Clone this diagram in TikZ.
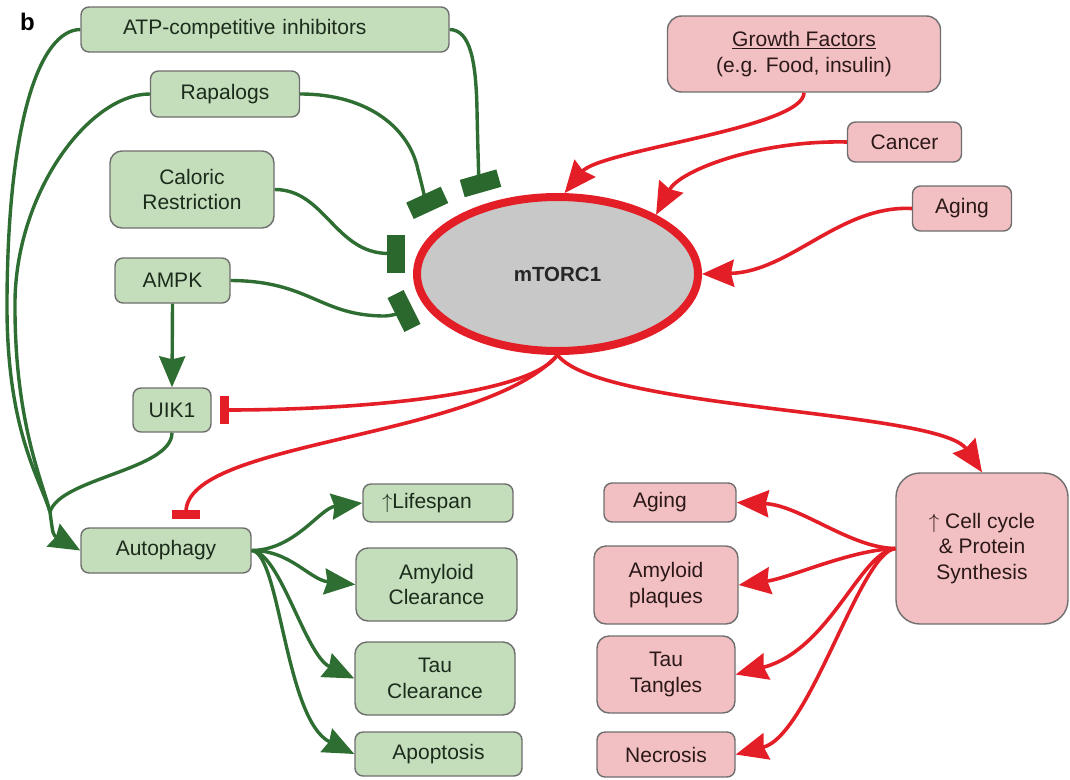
\documentclass[tikz,border=0pt]{standalone}
\usepackage{fontspec}
\setmainfont{Liberation Sans}
\usetikzlibrary{arrows.meta,shapes.geometric}

\definecolor{lineGreen}{HTML}{2F6E33}
\definecolor{barGreen}{HTML}{2A682D}
\definecolor{boxGreen}{HTML}{C4DDBB}
\definecolor{txtGreen}{HTML}{1C2C1C}
\definecolor{lineRed}{HTML}{E41E26}
\definecolor{boxRed}{HTML}{F2C0C3}
\definecolor{txtRed}{HTML}{2B1818}
\definecolor{torGray}{HTML}{C8C8C8}
\definecolor{boxEdge}{HTML}{6E6E6E}

\begin{document}
\begin{tikzpicture}[
  x=1pt, y=-1pt,
  every node/.style={font=\fontsize{21}{25.5}\selectfont},
  gbox/.style={rectangle, rounded corners=8pt, draw=boxEdge, line width=1.4pt, fill=boxGreen, text=txtGreen, align=center, inner sep=0pt},
  rbox/.style={rectangle, rounded corners=8pt, draw=boxEdge, line width=1.4pt, fill=boxRed, text=txtRed, align=center, inner sep=0pt},
  gline/.style={line width=3.4pt, draw=lineGreen},
  garrow/.style={gline, -{Stealth[length=31pt,width=26pt,inset=3pt]}},
  gblock/.style={gline, -{Rectangle[length=18pt,width=38pt,color=barGreen]}},
  rarrow/.style={line width=3.6pt, draw=lineRed, -{Stealth[length=32pt,width=27pt,inset=3pt]}},
  rblock/.style={line width=3.6pt, draw=lineRed, -{Rectangle[length=9pt,width=28pt]}, shorten >=8pt},
]
  \useasboundingbox (0,0) rectangle (1070,779);

  % panel tag
  \node[font=\fontsize{24}{24}\selectfont\bfseries] (tag) at (27.5,22) {b};

  % Regulators of mTORC1 (green)
  \node[gbox, minimum width=368pt, minimum height=45pt, text width=284pt, align=left] (atp) at (265,29.5) {ATP-competitive inhibitors};
  \node[gbox, minimum width=149pt, minimum height=46pt] (rapa) at (225,94) {Rapalogs};
  \node[gbox, rounded corners=12pt, minimum width=164pt, minimum height=77pt] (cr) at (192,189.5) {Caloric\\Restriction};
  \node[gbox, minimum width=115pt, minimum height=45pt] (ampk) at (172.5,280.5) {AMPK};
  \node[gbox, minimum width=78pt, minimum height=44pt] (ulk) at (172,410) {UIK1};
  \node[gbox, minimum width=170pt, minimum height=45pt] (auto) at (166,550.5) {Autophagy};

  % Autophagy outcomes
  \node[gbox, minimum width=150pt, minimum height=38pt, text width=112pt, align=left] (life) at (438,503) {$\uparrow$Lifespan};
  \node[gbox, rounded corners=12pt, minimum width=161pt, minimum height=73pt] (amyc) at (436.5,584.5) {Amyloid\\Clearance};
  \node[gbox, rounded corners=12pt, minimum width=160pt, minimum height=73pt] (tauc) at (435,678.5) {Tau\\Clearance};
  \node[gbox, minimum width=167pt, minimum height=44pt] (apo) at (438.5,754) {Apoptosis};

  % mTORC1
  \node[ellipse, draw=lineRed, line width=8pt, fill=torGray, inner sep=0pt, minimum width=281pt, minimum height=154pt, font=\fontsize{20.5}{24}\selectfont\bfseries, text=black!85] (mtor) at (557.5,274) {mTORC1};

  % Activators of mTORC1 (red)
  \node[rbox, rounded corners=14pt, minimum width=273pt, minimum height=76pt] (gf) at (804,54) {\underline{Growth Factors}\\(e.g. Food, insulin)};
  \node[rbox, minimum width=114pt, minimum height=40pt] (cancer) at (904.5,142) {Cancer};
  \node[rbox, minimum width=99pt, minimum height=45pt] (agein) at (962,208.5) {Aging};

  % Downstream of mTORC1
  \node[rbox, rounded corners=24pt, minimum width=172pt, minimum height=151pt] (cycle) at (982,548.5) {$\uparrow$ Cell cycle\\\& Protein\\Synthesis};
  \node[rbox, minimum width=132pt, minimum height=39pt, text width=74pt, align=left] (ageout) at (670,502.5) {Aging};
  \node[rbox, rounded corners=12pt, minimum width=144pt, minimum height=78pt] (plaq) at (666,585) {Amyloid\\plaques};
  \node[rbox, rounded corners=12pt, minimum width=138pt, minimum height=77pt] (tang) at (666,674.5) {Tau\\Tangles};
  \node[rbox, minimum width=138pt, minimum height=45pt] (necro) at (666,754.5) {Necrosis};

  % free ends
  \coordinate (jL) at (50,512);
  \coordinate (atpEnd) at (483,192);
  \coordinate (rapEnd) at (431,211);
  \coordinate (crEnd) at (405,253.5);
  \coordinate (ampkEnd) at (412,307);

  % Green connectors
  \draw[gline] (atp.west) .. controls (40,30) and (8,120) .. (7,300) .. controls (6,430) and (40,478) .. (jL);
  \draw[gline] (rapa.west) .. controls (90,94) and (17,190) .. (15,300) .. controls (14,420) and (42,480) .. (jL);
  \draw[gline] (ulk.south) .. controls (172,470) and (60,478) .. (jL);
  \draw[garrow] (jL) .. controls (53,535) .. (auto.west);
  \draw[garrow] (ampk.south) -- (ulk.north);
  \draw[gblock] (atp.east) .. controls (470,30) and (476,60) .. (477,110) .. controls (478,160) and (479,178) .. (atpEnd);
  \draw[gblock] (rapa.east) .. controls (370,94) and (410,130) .. (418,170) .. controls (422,185) and (425,198) .. (rapEnd);
  \draw[gblock] (cr.east) .. controls (325,189.5) and (335,253.5) .. (crEnd);
  \draw[gblock] (ampk.east) .. controls (310,281) and (320,316) .. (385,316) .. controls (395,315.5) and (404,311) .. (ampkEnd);
  \draw[garrow] (auto.east) .. controls (295,550) and (320,508) .. (life.west);
  \draw[garrow] (auto.east) .. controls (290,550) and (310,580) .. (amyc.west);
  \draw[garrow] (auto.east) .. controls (280,552) and (305,655) .. (tauc.west);
  \draw[garrow] (auto.east) .. controls (280,552) and (285,720) .. (apo.west);

  % Red connectors
  \draw[rarrow] (gf.south) .. controls (804,128) and (600,150) .. (mtor.85);
  \draw[rarrow] (cancer.west) .. controls (760,140) and (680,170) .. (mtor.31);
  \draw[rarrow] (agein.west) .. controls (840,205) and (790,272) .. (mtor.east);
  \draw[rblock] (mtor.south) .. controls (530,395) and (360,410) .. (ulk.east);
  \draw[rblock] (mtor.south) .. controls (480,440) and (186,440) .. ([xshift=20pt]auto.north);
  \draw[rarrow] (mtor.south) .. controls (600,410) and (940,410) .. (cycle.north);
  \draw[rarrow] (cycle.west) .. controls (850,548) and (800,505) .. (ageout.east);
  \draw[rarrow] (cycle.west) .. controls (850,550) and (790,578) .. (plaq.east);
  \draw[rarrow] (cycle.west) .. controls (860,552) and (830,650) .. (tang.east);
  \draw[rarrow] (cycle.west) .. controls (860,552) and (810,735) .. (necro.east);
\end{tikzpicture}
\end{document}
